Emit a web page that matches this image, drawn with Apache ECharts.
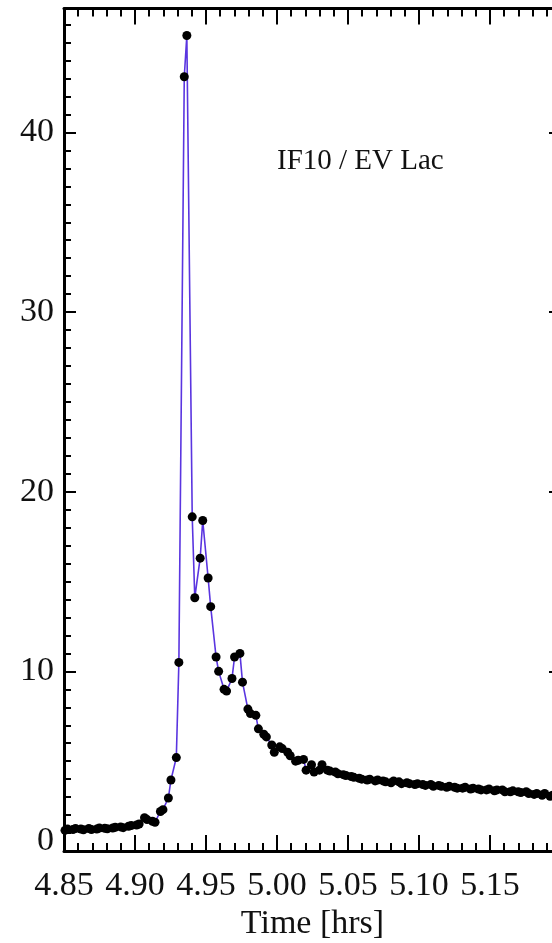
<!DOCTYPE html>
<html><head><meta charset="utf-8">
<script src="https://cdn.jsdelivr.net/npm/echarts@6/dist/echarts.min.js"></script>
<style>html,body{margin:0;padding:0;overflow:hidden;background:#fff}#c{width:566px;height:943px}</style>
</head><body><div id="c"></div>
<script>
// Time [hrs]
const times = [
 4.8507,4.8525, 4.8563,4.8581, 4.8619,4.8637, 4.8675,4.8693, 4.8731,4.8749,
 4.8787,4.8805, 4.8843,4.8861, 4.8899,4.8917, 4.8955,4.8973, 4.9011,4.9029,
 4.9067,4.9085, 4.9123,4.9141, 4.9179,4.9197, 4.9235,4.9253, 4.9291,4.9309,
 4.9347,4.9365, 4.9403,4.9421, 4.9459,4.9477, 4.9515,4.9533, 4.9571,4.9589,
 4.9627,4.9645, 4.9683,4.9701, 4.9739,4.9757, 4.9795,4.9813, 4.9851,4.9869,
 4.9907,4.9925, 4.9963,4.9981, 5.0019,5.0037, 5.0075,5.0093, 5.0131,5.0149,
 5.0187,5.0205, 5.0243,5.0261, 5.0299,5.0317, 5.0355,5.0373, 5.0411,5.0429,
 5.0467,5.0485, 5.0523,5.0541, 5.0579,5.0597, 5.0635,5.0653, 5.0691,5.0709,
 5.0747,5.0765, 5.0803,5.0821, 5.0859,5.0877, 5.0915,5.0933, 5.0971,5.0989,
 5.1027,5.1045, 5.1083,5.1101, 5.1139,5.1157, 5.1195,5.1213, 5.1251,5.1269,
 5.1307,5.1325, 5.1363,5.1381, 5.1419,5.1437, 5.1475,5.1493, 5.1531,5.1549,
 5.1587,5.1605, 5.1643,5.1661, 5.1699,5.1717, 5.1755,5.1773, 5.1811,5.1829,
 5.1867,5.1885, 5.1923,5.1941, 5.1979,5.1997
];
// relative flux
const flux = [
 1.15,1.22, 1.20,1.25, 1.22,1.18, 1.25,1.20, 1.22,1.28,
 1.26,1.24, 1.28,1.32, 1.34,1.30, 1.38,1.42, 1.45,1.50,
 1.85,1.75, 1.65,1.60, 2.20,2.30, 2.95,3.95, 5.20,10.5,
 43.1,45.4, 18.6,14.1, 16.3,18.4, 15.2,13.6, 10.8,10.0,
 9.0,8.9, 9.6,10.8, 11.0,9.4, 7.9,7.65, 7.55,6.8,
 6.5,6.35, 5.9,5.5, 5.8,5.7, 5.5,5.3, 5.0,5.05,
 5.1,4.5, 4.8,4.4, 4.5,4.8, 4.5,4.45, 4.4,4.3,
 4.25,4.2, 4.15,4.1, 4.05,4.0, 3.95,4.0, 3.9,3.95,
 3.9,3.85, 3.8,3.9, 3.85,3.75, 3.8,3.75, 3.7,3.75,
 3.7,3.65, 3.7,3.6, 3.65,3.6, 3.55,3.6, 3.55,3.5,
 3.5,3.55, 3.45,3.5, 3.45,3.4, 3.4,3.45, 3.35,3.4,
 3.4,3.3, 3.3,3.35, 3.3,3.25, 3.3,3.2, 3.15,3.2,
 3.1,3.2, 3.05,3.1, 3.0,3.05
];
const xRange = [4.85, 5.2];
const yRange = [0, 46.9];
const xLabels = ['4.85','4.90','4.95','5.00','5.05','5.10','5.15'];
const yLabels = ['0','10','20','30','40'];
const xName = 'Time [hrs]';
const annotation = 'IF10 / EV Lac';

const FONT = 'Liberation Serif';
const TXT = '#111';
const chart = echarts.init(document.getElementById('c'), null, {renderer:'canvas', width:566, height:943});
const gridBox = {left:64, right:5, top:8.5, bottom:92, containLabel:false, outerBoundsMode:'none'};
const frameLine = {show:true, onZero:false, lineStyle:{color:'#000', width:3}};
const noLine = {show:false, onZero:false};
const hiddenX = {gridIndex:1, type:'value', min:xRange[0], max:xRange[1], show:false, axisLine:noLine};
chart.setOption({
  animation:false,
  backgroundColor:'#fff',
  grid:[Object.assign({}, gridBox), Object.assign({}, gridBox)],
  xAxis:[
    {gridIndex:0, type:'value', position:'bottom', min:xRange[0], max:xRange[1], interval:0.05,
     axisLine:frameLine,
     axisTick:{show:true, inside:true, length:16, lineStyle:{color:'#000', width:2}},
     minorTick:{show:true, splitNumber:5, length:8, lineStyle:{color:'#000', width:2}},
     splitLine:{show:false},
     axisLabel:{show:true, margin:18, color:TXT, fontFamily:FONT, fontSize:34, hideOverlap:false,
       formatter:v=>{const s=v.toFixed(2); return xLabels.indexOf(s)>=0?s:'';}},
     name:xName, nameLocation:'middle', nameGap:56, nameMoveOverlap:false,
     nameTextStyle:{color:TXT, fontFamily:FONT, fontSize:34}},
    {gridIndex:0, type:'value', position:'top', min:xRange[0], max:xRange[1], interval:0.05,
     axisLine:frameLine,
     axisTick:{show:true, inside:true, length:16, lineStyle:{color:'#000', width:2}},
     minorTick:{show:true, splitNumber:5, length:8, lineStyle:{color:'#000', width:2}},
     splitLine:{show:false}, axisLabel:{show:false}},
    hiddenX
  ],
  yAxis:[
    {gridIndex:0, type:'value', position:'left', min:yRange[0], max:yRange[1], interval:10,
     axisLine:frameLine,
     axisTick:{show:true, inside:true, length:12, lineStyle:{color:'#000', width:2}},
     splitLine:{show:false},
     axisLabel:{show:true, showMaxLabel:false, margin:10, color:TXT, fontFamily:FONT, fontSize:34,
       formatter:v=>{const s=String(Math.round(v)); if(Math.abs(v-Math.round(v))>1e-6||yLabels.indexOf(s)<0) return ''; return s==='0'?'{z|0}':s;},
       rich:{z:{fontFamily:FONT, fontSize:34, color:TXT, padding:[0,0,20,0]}}}},
    {gridIndex:0, type:'value', position:'right', min:yRange[0], max:yRange[1], interval:10,
     axisLine:frameLine,
     axisTick:{show:true, inside:true, length:12, lineStyle:{color:'#000', width:2}},
     splitLine:{show:false}, axisLabel:{show:false}},
    {gridIndex:1, type:'value', position:'left', min:yRange[0], max:yRange[1], interval:1,
     axisLine:noLine,
     axisTick:{show:true, inside:true, length:7, lineStyle:{color:'#000', width:2}},
     splitLine:{show:false}, axisLabel:{show:false}},
    {gridIndex:1, type:'value', position:'right', min:yRange[0], max:yRange[1], interval:1,
     axisLine:noLine,
     axisTick:{show:true, inside:true, length:7, lineStyle:{color:'#000', width:2}},
     splitLine:{show:false}, axisLabel:{show:false}}
  ],
  graphic:[{type:'text', left:277, top:147, style:{text:annotation, fontFamily:FONT, fontSize:29, fill:TXT}}],
  series:[{
    type:'line', xAxisIndex:0, yAxisIndex:0,
    data: times.map((t,i)=>[t, flux[i]]),
    symbol:'circle', symbolSize:9, showAllSymbol:true,
    itemStyle:{color:'#000'},
    lineStyle:{color:'#5a35e0', width:1.6},
    clip:true
  }]
});
</script></body></html>
